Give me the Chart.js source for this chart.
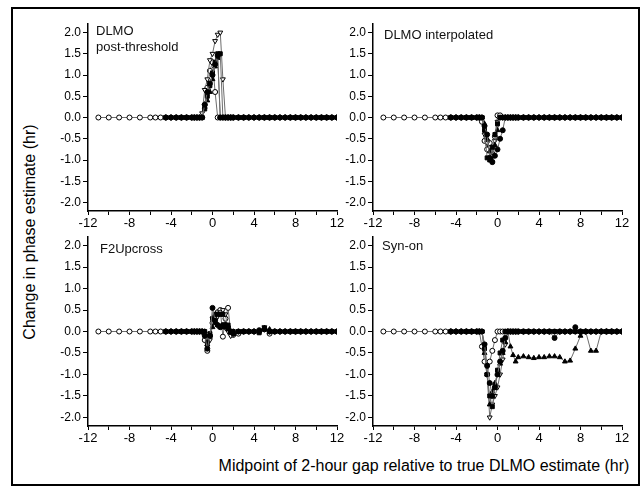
<!DOCTYPE html>
<html>
<head>
<meta charset="utf-8">
<script src="https://cdn.jsdelivr.net/npm/chart.js@4.4.0/dist/chart.umd.min.js"></script>
<style>
body{margin:0;background:#fff;width:642px;height:489px;position:relative;overflow:hidden;font-family:"Liberation Sans",Arial,sans-serif;color:#000;}
#frame{position:absolute;left:11px;top:7px;width:625px;height:475px;border:2px solid #000;}
canvas{position:absolute;}
#ylab{position:absolute;left:-170px;top:222px;width:400px;height:20px;line-height:20px;text-align:center;transform:rotate(-90deg);font-size:16px;white-space:nowrap;}
#xlab{position:absolute;left:174px;top:456px;width:500px;height:20px;line-height:20px;text-align:center;font-size:16px;white-space:nowrap;}
</style>
</head>
<body>
<div id="frame"></div>
<div id="ylab">Change in phase estimate (hr)</div>
<div id="xlab">Midpoint of 2-hour gap relative to true DLMO estimate (hr)</div>
<canvas id="p1" width="307" height="230" style="left:40px;top:8px"></canvas>
<canvas id="p2" width="307" height="230" style="left:325px;top:8px"></canvas>
<canvas id="p3" width="307" height="231" style="left:40px;top:222px"></canvas>
<canvas id="p4" width="307" height="231" style="left:325px;top:222px"></canvas>
<script>
// gap midpoints (hr)
const xEarly=[-11,-10,-9,-8,-7,-6,-5.5,-5];
const xGrid=[-4.5,-4,-3.5,-3,-2.5,-2,
-1.75,-1.5,-1.25,-1,-0.75,-0.5,-0.25,0,0.25,0.5,0.75,1,1.25,1.5,1.75,2,
2.5,3,3.5,4,4.5,5,5.5,6,6.5,7,7.5,8,8.5,9,9.5,10,10.5,11,11.5,12];

const xTicks=[-12,-10,-8,-6,-4,-2,0,2,4,6,8,10,12];
const xLabels=[-12,-8,-4,0,4,8,12];
const yTicks=[-2,-1.5,-1,-0.5,0,0.5,1,1.5,2];

// DLMO post-threshold
const postOpenCircle=[0,0,0,0,0,0,0,0,
0,0,0,0,0,0,
0,0,0,0,0.3,0.7,1.1,1.3,0.6,0,0,0,0,0,0,0,
0,0,0,0,0,0,0,0,0,0,0,0,0,0,0,0,0,0,0,0];
const postFilledCircle=[0,0,0,0,0,0,
0,0,0,0,0.3,0.6,0.8,1.0,1.25,1.45,0,0,0,0,0,0,
0,0,0,0,0,0,0,0,0,0,0,0,0,0,0,0,0,0,0,0];
const postSquare=[0,0,0,0,0,0,
0,0,0,0,0.2,0.5,0.75,1.05,1.3,1.5,1.5,0,0,0,0,0,
0,0,0,0,0,0,0,0,0,0,0,0,0,0,0,0,0,0,0,0];
const postTriangle=[0,0,0,0,0,0,
0,0,0,0,0.25,0.4,0.6,0.9,1.2,1.4,0,0,0,0,0,0,
0,0,0,0,0,0,0,0,0,0,0,0,0,0,0,0,0,0,0,0];
const postOpenTri=[0,0,0,0,0,0,
0,0,0,0.1,0.65,0.9,1.35,1.5,1.8,1.95,2.0,0.9,0,0,0,0,
0,0,0,0,0,0,0,0,0,0,0,0,0,0,0,0,0,0,0,0];

// DLMO interpolated
const interpOpenCircle=[0,0,0,0,0,0,0,0,
0,0,0,0,0,0,
0,-0.1,-0.55,-0.75,-0.6,-0.85,-0.45,0.05,0.05,0,0,0,0,0,0,0,
0,0,0,0,0,0,0,0,0,0,0,0,0,0,0,0,0,0,0,0];
const interpFilledCircle=[0,0,0,0,0,0,
0,0,-0.2,-0.4,-0.95,-1.05,-0.9,-0.75,-0.5,-0.3,0,0,0,0,0,0,
0,0,0,0,0,0,0,0,0,0,0,0,0,0,0,0,0,0,0,0];
const interpSquare=[0,0,0,0,0,0,
0,0,-0.3,-0.95,-1.0,-0.7,-0.4,-0.15,0,0,0,0,0,0,0,0,
0,0,0,0,0,0,0,0,0,0,0,0,0,0,0,0,0,0,0,0];
const interpTriangle=[0,0,0,0,0,0,
0,0,-0.15,-0.5,-0.8,-1.0,-0.65,-0.3,0,0,0,0,0,0,0,0,
0,0,0,0,0,0,0,0,0,0,0,0,0,0,0,0,0,0,0,0];
const interpOpenTri=[0,0,0,0,0,0,
0,0,-0.4,-0.6,-0.7,-0.9,-0.55,-0.1,0,0,0,0,0,0,0,0,
0,0,0,0,0,0,0,0,0,0,0,0,0,0,0,0,0,0,0,0];

// F2Upcross
const f2OpenCircle=[0,0,0,0,0,0,0,0,
0,0,0,0,0,0,
0,0,0,0,-0.2,-0.45,-0.1,0.2,0.3,0.45,0.5,-0.12,0.3,0.55,0,-0.08,
-0.05,0,0,0,0,0.05,-0.05,0,0,0,0,0,0,0,0,0,0,0,0,0];
const f2FilledCircle=[0,0,0,0,0,0,
0,0,0,0,-0.1,-0.4,-0.1,0.55,0.25,0.15,0.1,0.15,0.15,0.1,0,-0.05,
0,0,0,0,0.03,0.05,0,0,0,0,0,0,0,0,0,0,0,0,0,0];
const f2Square=[0,0,0,0,0,0,
0,0,0,0,0,-0.25,-0.05,0.3,0.4,0.4,0.4,0.4,0.1,0.15,0,0,
0,0,0,0,-0.03,0.08,0,0,0,0,0,0,0,0,0,0,0,0,0,0];
const f2Triangle=[0,0,0,0,0,0,
0,0,0,0,0,-0.3,-0.1,0.1,0.2,0.15,0.1,0.1,0.15,0.05,0,0,
0,0,0,0,0,0.08,0.05,0,0,0,0,0,0,0,0,0,0,0,0,0];
const f2OpenTri=[0,0,0,0,0,0,
0,0,0,0,-0.1,-0.35,-0.2,0.3,0.35,0.35,0.45,0.5,0.4,0,-0.1,-0.05,
0,0,0,0,0,0.1,0,0,0,0,0,0,0,0,0,0,0,0,0,0];

// Syn-on
const synOpenCircle=[0,0,0,0,0,0,0,0,
0,0,0,0,0,0,
0,-0.35,-0.7,-1.0,-0.7,-0.45,-0.2,0,0,0,0,0,0,0,0,0,
0,0,0,0,0,0,0,0,0,0,0,0,0,0,0,0,0,0,0,0];
const synFilledCircle=[0,0,0,0,0,0,
0,0,-0.3,-0.8,-1.2,-1.5,-1.3,-1.0,-0.7,-0.45,-0.15,0,0,0,0,0,
0,0,0,0,0,0,-0.15,0,0,0,0.1,0,0,0,0,0,0,0,0,0];
const synSquare=[0,0,0,0,0,0,
0,0,-0.4,-1.0,-1.5,-1.75,-1.3,-0.9,-0.5,-0.2,0,0,0,0,0,0,
0,0,0,0,0,0,0,0,0,0,0,0,0,0,0,0,0,0,0,0];
const synTriangle=[0,0,0,0,0,0,
0,0,-0.5,-1.0,-1.7,-1.4,-1.2,-1.0,-0.75,-0.5,-0.25,0,-0.35,-0.55,-0.7,-0.6,
-0.58,-0.6,-0.62,-0.6,-0.6,-0.58,-0.58,-0.6,-0.7,-0.68,-0.4,-0.1,0,-0.45,-0.45,0,0,0,0,0];
const synOpenTri=[0,0,0,0,0,0,
0,0,-0.3,-1.0,-2.0,-1.7,-1.5,-1.3,-1.0,-0.65,-0.3,0,0,0,0,0,
0,0,0,0,0,0,0,0,0,0,0,0,0,0,0,0,0,0,0,0];

const font='"Liberation Sans", Arial, sans-serif';

function pts(xs,ys){
return xs.map((x,i)=>({x:x,y:ys[i]}));
}

function series(xs,ys,style,fill,rot){
return {
data:pts(xs,ys),
showLine:true,
borderColor:'#6d6d6d',
borderWidth:1,
pointStyle:style,
pointRotation:rot||0,
pointRadius:style=='circle'?2.5:2.8,
pointBorderColor:'#000',
pointBorderWidth:1,
pointBackgroundColor:fill
};
}

function panel(id,title,tx,ty,top,s){
new Chart(
document.getElementById(id),
{
type:'scatter',
data:{
datasets:[
series(xGrid,s[0],'circle','#000'),
series(xGrid,s[1],'rect','#000'),
series(xGrid,s[2],'triangle','#000'),
series(xGrid,s[3],'triangle','#fff',180),
series(xEarly.concat(xGrid),s[4],'circle','#fff')
]
},
options:{
responsive:false,
animation:false,
layout:{padding:{top:top,right:10,left:0,bottom:0}},
plugins:{legend:{display:false},tooltip:{enabled:false}},
scales:{
x:{
type:'linear',min:-12,max:12,
afterBuildTicks:a=>{a.ticks=xTicks.map(v=>({value:v}));},
afterFit:a=>{a.height=27;},
border:{color:'#000',width:1.5},
grid:{drawOnChartArea:false,drawTicks:true,tickLength:4,color:'#000'},
ticks:{autoSkip:false,maxRotation:0,padding:1,color:'#000',font:{family:font,size:13},
callback:v=>xLabels.includes(v)?String(v):''}
},
y:{
type:'linear',min:-2.2,max:2.2,
afterBuildTicks:a=>{a.ticks=yTicks.map(v=>({value:v}));},
afterFit:a=>{a.width=48;},
border:{color:'#000',width:1.5},
grid:{drawOnChartArea:false,drawTicks:true,tickLength:5,color:'#000'},
ticks:{padding:2,color:'#000',font:{family:font,size:12},
callback:v=>v.toFixed(1)}
}
}
},
plugins:[{
id:'panelTitle',
afterDraw:c=>{
let ctx=c.ctx;
ctx.save();
ctx.font='13px '+font;
ctx.fillStyle='#111';
ctx.textBaseline='middle';
title.forEach((t,i)=>ctx.fillText(t,c.chartArea.left+tx,c.chartArea.top+ty+i*16));
ctx.restore();
}
}]
}
);
}

panel('p1',['DLMO','post-threshold'],8,7,16,
[postFilledCircle,postSquare,postTriangle,postOpenTri,postOpenCircle]);
panel('p2',['DLMO interpolated'],11,11,16,
[interpFilledCircle,interpSquare,interpTriangle,interpOpenTri,interpOpenCircle]);
panel('p3',['F2Upcross'],12,12,15,
[f2FilledCircle,f2Square,f2Triangle,f2OpenTri,f2OpenCircle]);
panel('p4',['Syn-on'],9,9,15,
[synFilledCircle,synSquare,synTriangle,synOpenTri,synOpenCircle]);
</script>
</body>
</html>
